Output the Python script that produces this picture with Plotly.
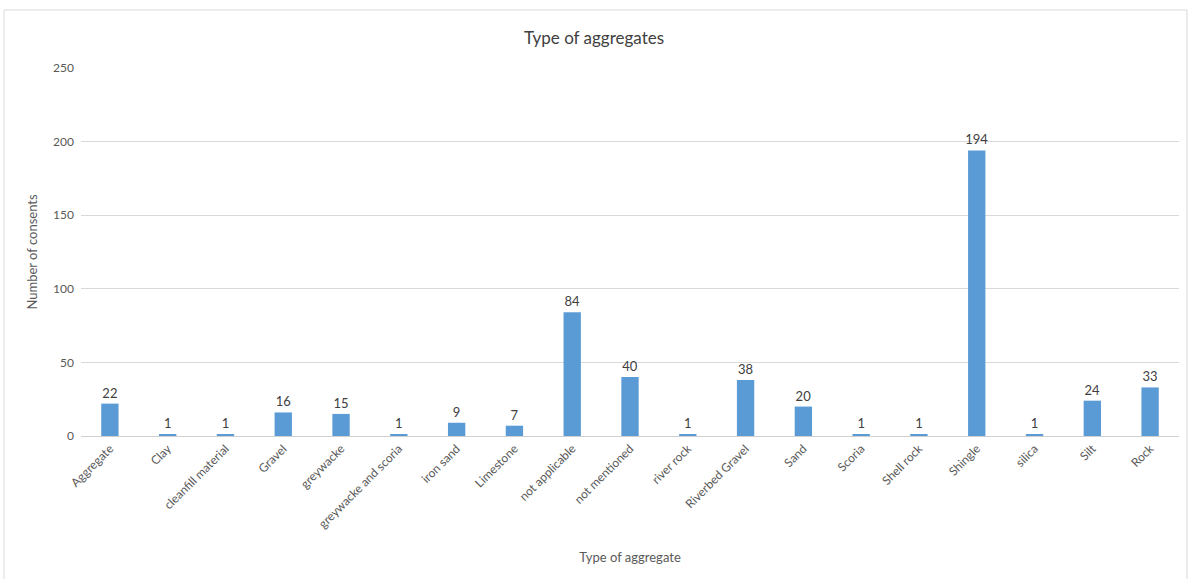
import plotly.graph_objects as go

# Aggregate types and the number of consents recorded for each
categories = [
    "Aggregate", "Clay", "cleanfill material", "Gravel", "greywacke",
    "greywacke and scoria", "iron sand", "Limestone", "not applicable",
    "not mentioned", "river rock", "Riverbed Gravel", "Sand", "Scoria",
    "Shell rock", "Shingle", "silica", "Silt", "Rock",
]
consents = [22, 1, 1, 16, 15, 1, 9, 7, 84, 40, 1, 38, 20, 1, 1, 194, 1, 24, 33]

y_ticks = [0, 50, 100, 150, 200, 250]

FONT = "Lato, 'Open Sans', sans-serif"
BAR = "#5B9BD5"
GRID = "#D9D9D9"
TXT = "#595959"

fig = go.Figure(
    go.Bar(
        x=categories,
        y=consents,
        marker=dict(color=BAR, line=dict(width=0)),
        text=[str(v) for v in consents],
        textposition="outside",
        constraintext="none",
        textfont=dict(family=FONT, size=13, color="#404040"),
        cliponaxis=False,
    )
)

fig.update_layout(
    width=1188,
    height=579,
    margin=dict(l=81, r=9, t=68, b=143),
    paper_bgcolor="white",
    plot_bgcolor="white",
    bargap=0.7,
    showlegend=False,
    font=dict(family=FONT, color=TXT),
    uniformtext=dict(mode=False),
    title=dict(
        text="Type of aggregates",
        x=0.5,
        xanchor="center",
        y=1 - 38 / 579,
        yanchor="middle",
        font=dict(family=FONT, size=17, color="#404040"),
    ),
    xaxis=dict(
        title=dict(text="Type of aggregate", font=dict(size=13, color=TXT), standoff=22),
        tickangle=-45,
        tickfont=dict(size=12, color=TXT),
        showgrid=False,
        showline=True,
        linecolor="#CFCFCF",
        linewidth=1,
        ticks="",
    ),
    yaxis=dict(
        title=dict(text="Number of consents", font=dict(size=13, color=TXT), standoff=12),
        range=[0, 250],
        tickvals=y_ticks,
        tickfont=dict(size=12, color=TXT),
        showgrid=True,
        gridcolor=GRID,
        gridwidth=1,
        zeroline=False,
        showline=False,
        ticks="",
        ticklabelstandoff=6,
    ),
    shapes=[
        dict(
            type="rect",
            xref="paper",
            yref="paper",
            x0=(4 - 81) / 1098,
            x1=(1187 - 81) / 1098,
            y0=(436 - 600) / 368,
            y1=(436 - 10) / 368,
            line=dict(color="#D9D9D9", width=1),
            fillcolor="rgba(0,0,0,0)",
            layer="below",
        )
    ],
)

fig.write_html("out.html")
